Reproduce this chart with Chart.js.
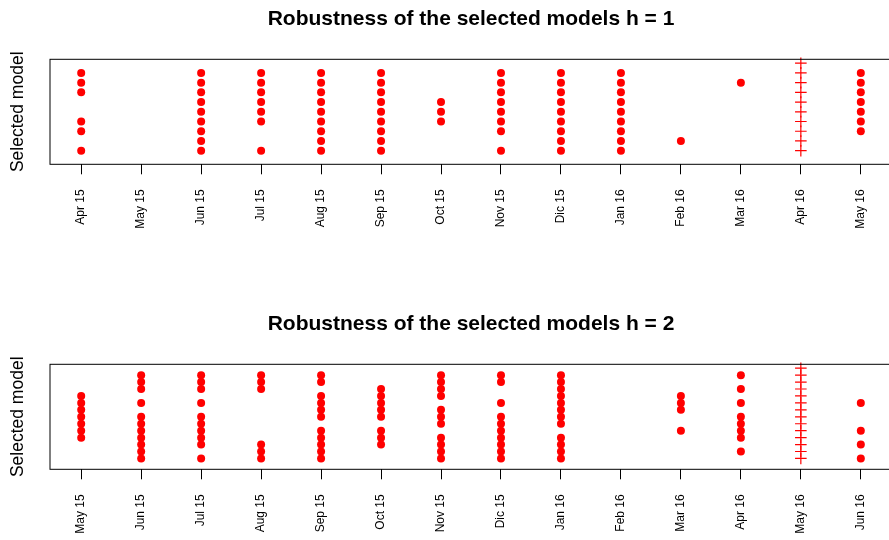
<!DOCTYPE html>
<html>
<head>
<meta charset="utf-8">
<title>Robustness of the selected models</title>
<script src="https://cdn.jsdelivr.net/npm/chart.js@4.4.1/dist/chart.umd.min.js"></script>
<style>
  html, body { margin: 0; padding: 0; background: #fff; }
  #wrap { position: relative; width: 889px; height: 540px; overflow: hidden; }
  canvas { position: absolute; left: 0; }
  #chartH1 { top: 0; }
  #chartH2 { top: 305px; }
</style>
</head>
<body>
<div id="wrap">
  <canvas id="chartH1" width="899" height="305"></canvas>
  <canvas id="chartH2" width="899" height="305"></canvas>
</div>
<script>
// h = 1
const monthsH1 = ['Apr 15', 'May 15', 'Jun 15', 'Jul 15', 'Aug 15', 'Sep 15', 'Oct 15',
  'Nov 15', 'Dic 15', 'Jan 16', 'Feb 16', 'Mar 16', 'Apr 16', 'May 16'];
const modelsH1 = [
  [9, 8, 7, 4, 3, 1],
  [],
  [9, 8, 7, 6, 5, 4, 3, 2, 1],
  [9, 8, 7, 6, 5, 4, 1],
  [9, 8, 7, 6, 5, 4, 3, 2, 1],
  [9, 8, 7, 6, 5, 4, 3, 2, 1],
  [6, 5, 4],
  [9, 8, 7, 6, 5, 4, 3, 1],
  [9, 8, 7, 6, 5, 4, 3, 2, 1],
  [9, 8, 7, 6, 5, 4, 3, 2, 1],
  [2],
  [8],
  [],
  [9, 8, 7, 6, 5, 4, 3]
];
const refMonthH1 = 'Apr 16';
const refModelsH1 = [1, 2, 3, 4, 5, 6, 7, 8, 9, 10];

// h = 2
const monthsH2 = ['May 15', 'Jun 15', 'Jul 15', 'Aug 15', 'Sep 15', 'Oct 15', 'Nov 15',
  'Dic 15', 'Jan 16', 'Feb 16', 'Mar 16', 'Apr 16', 'May 16', 'Jun 16'];
const modelsH2 = [
  [10, 9, 8, 7, 6, 5, 4],
  [13, 12, 11, 9, 7, 6, 5, 4, 3, 2, 1],
  [13, 12, 11, 9, 7, 6, 5, 4, 3, 1],
  [13, 12, 11, 3, 2, 1],
  [13, 12, 10, 9, 8, 7, 5, 4, 3, 2, 1],
  [11, 10, 9, 8, 7, 5, 4, 3],
  [13, 12, 11, 10, 8, 7, 6, 4, 3, 2, 1],
  [13, 12, 9, 7, 6, 5, 4, 3, 2, 1],
  [13, 12, 11, 10, 9, 8, 7, 6, 4, 3, 2, 1],
  [],
  [10, 9, 8, 5],
  [13, 11, 9, 7, 6, 5, 4, 2],
  [],
  [9, 5, 3, 1]
];
const refMonthH2 = 'May 16';
const refModelsH2 = [1, 2, 3, 4, 5, 6, 7, 8, 9, 10, 11, 12, 13, 14];

const FONT = '"Liberation Sans", Arial, Helvetica, sans-serif';
Chart.defaults.color = '#000';
Chart.defaults.font.family = FONT;

// R style box around the plot region
const framePlugin = {
  id: 'frame',
  afterDatasetsDraw(chart) {
    const { ctx, chartArea: a } = chart;
    ctx.save();
    ctx.strokeStyle = '#000';
    ctx.lineWidth = 1;
    ctx.strokeRect(a.left, a.top, a.right - a.left, a.bottom - a.top);
    ctx.restore();
  }
};

function drawPanel(canvasId, title, months, models, refMonth, refModels) {
  const points = [];
  months.forEach((m, i) => {
    models[i].forEach((v) => points.push({ x: i + 1, y: v }));
  });
  const refX = months.indexOf(refMonth) + 1;
  const refPoints = refModels.map((v) => ({ x: refX, y: v }));

  const n = months.length;
  const xPad = 0.04 * (n - 1);
  const yMax = refModels.length;
  const yPad = 0.04 * yMax;

  return new Chart(document.getElementById(canvasId), {
    type: 'scatter',
    data: {
      datasets: [
        {
          label: 'selected',
          data: points,
          pointStyle: 'circle',
          pointRadius: 4,
          backgroundColor: '#ff0000',
          borderColor: '#ff0000',
          borderWidth: 0,
          clip: false
        },
        {
          label: 'reference',
          data: refPoints,
          pointStyle: 'cross',
          pointRadius: 5.8,
          backgroundColor: '#ff0000',
          borderColor: '#ff0000',
          borderWidth: 1.2,
          clip: false
        }
      ]
    },
    options: {
      responsive: false,
      animation: false,
      events: [],
      layout: { padding: { left: 0, right: 2, top: 0, bottom: 0 } },
      plugins: {
        legend: { display: false },
        tooltip: { enabled: false },
        title: {
          display: true,
          text: title,
          fullSize: false,
          color: '#000',
          font: { family: FONT, size: 21, weight: 'bold', lineHeight: 1.2 },
          padding: { top: 6.4, bottom: 27.7 }
        }
      },
      scales: {
        x: {
          type: 'linear',
          min: 1 - xPad,
          max: n + xPad,
          afterBuildTicks(scale) {
            scale.ticks = months.map((m, i) => ({ value: i + 1 }));
          },
          afterFit(scale) {
            scale.height = 140.7;
          },
          ticks: {
            autoSkip: false,
            minRotation: 90,
            maxRotation: 90,
            padding: 15,
            color: '#000',
            font: { family: FONT, size: 12 },
            callback: (value, index) => months[index]
          },
          grid: {
            drawOnChartArea: false,
            drawTicks: true,
            tickLength: 10,
            color: '#000',
            lineWidth: 1
          },
          border: { display: false }
        },
        y: {
          min: -yPad,
          max: yMax + yPad,
          afterFit(scale) {
            scale.width = 50;
          },
          ticks: { display: false },
          grid: { display: false },
          border: { display: false },
          title: {
            display: true,
            text: 'Selected model',
            color: '#000',
            font: { family: FONT, size: 17.5, lineHeight: 1.2 },
            padding: { top: 7.5, bottom: 0 }
          }
        }
      }
    },
    plugins: [framePlugin]
  });
}

drawPanel('chartH1', 'Robustness of the selected models h = 1', monthsH1, modelsH1, refMonthH1, refModelsH1);
drawPanel('chartH2', 'Robustness of the selected models h = 2', monthsH2, modelsH2, refMonthH2, refModelsH2);
</script>
</body>
</html>
